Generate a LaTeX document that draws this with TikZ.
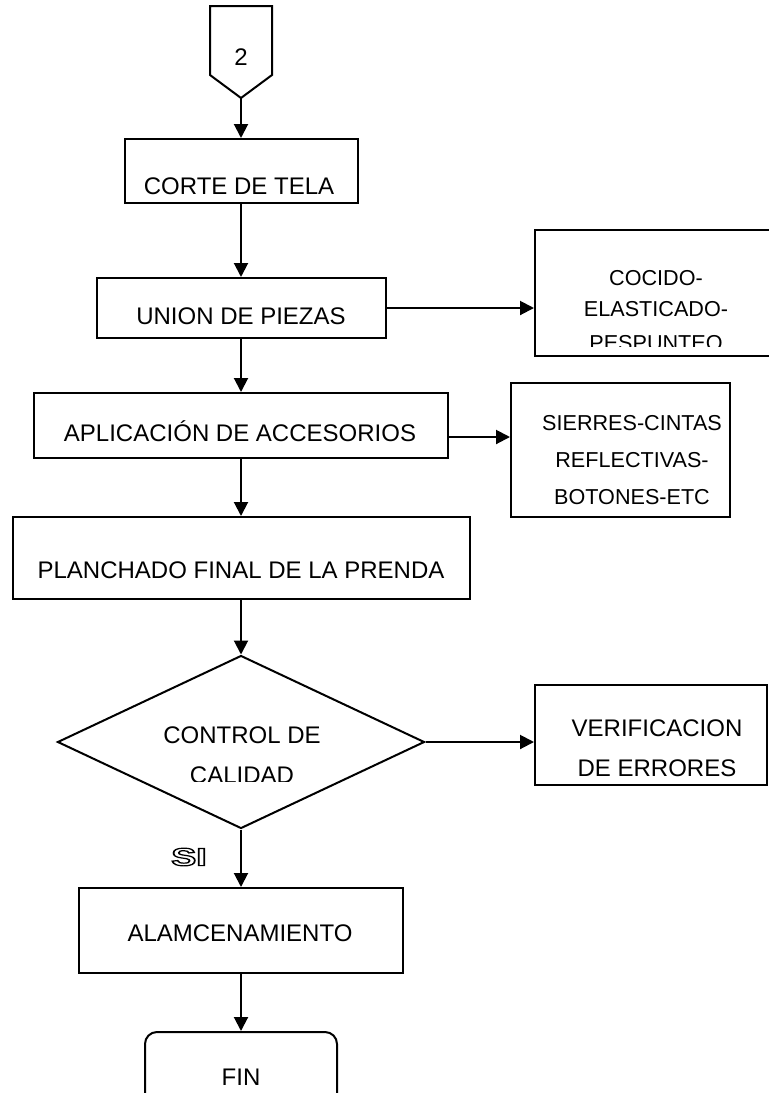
\documentclass[tikz,border=0pt]{standalone}
\usepackage{fontspec}
\setmainfont{Liberation Sans}
\usetikzlibrary{arrows.meta,shapes.geometric}

\tikzset{
  caja/.style={draw, line width=1pt, inner sep=0pt},
  txt/.style={inner sep=0pt, text height=8.6pt, text depth=0pt},
  txtchico/.style={txt, font=\fontsize{10.8}{13}\selectfont, text height=7.7pt},
  flecha/.style={line width=1pt, -{Triangle[length=7pt,width=7pt]}},
}
\newcommand{\contorno}[1]{\special{pdf:literal direct 1 Tr 0.6 w}#1\special{pdf:literal direct 0 Tr}}

\begin{document}
\begin{tikzpicture}[x=0.5pt, y=-0.5pt, font=\fontsize{12}{14.4}\selectfont, line join=miter]
	\useasboundingbox (0,0) rectangle (769,1093);
	% conector de pagina
	\path (210,6) coordinate (P1) (272,6) coordinate (P2) (272,75) coordinate (P3) (241,98) coordinate (P4) (210,75) coordinate (P5);
	\draw[line width=1pt] (P1)--(P2)--(P3)--(P4)--(P5)--cycle;
	\node[txt] (dos) at (241,57) {2};
	% cajas del proceso
	\node[caja, minimum width=116.5pt, minimum height=32pt] (corte) at (241,171) {};
	\node[caja, minimum width=144.5pt, minimum height=30pt] (union) at (241,308) {};
	\node[caja, minimum width=207pt, minimum height=32.5pt] (aplic) at (241,425.5) {};
	\node[caja, minimum width=228.5pt, minimum height=41pt] (planch) at (241,558) {};
	\node[caja, diamond, minimum width=183.5pt, minimum height=86.5pt] (control) at (241,742) {};
	\node[caja, minimum width=162pt, minimum height=42.5pt] (alm) at (241,930.5) {};
	\node[caja, rounded corners=6pt, minimum width=96pt, minimum height=44pt] (fin) at (241,1076) {};
	% cajas laterales
	\node[caja, minimum width=127.5pt, minimum height=63pt] (cocido) at (662.5,293) {};
	\node[caja, minimum width=109.5pt, minimum height=67pt] (sierres) at (620.5,450) {};
	\node[caja, minimum width=116pt, minimum height=50pt] (verif) at (651,735) {};
	% textos
	\node[txt] (tcorte) at (239,186) {CORTE DE TELA};
	\node[txt] (tunion) at (241,316) {UNION DE PIEZAS};
	\node[txt] (taplic) at (240,433) {APLICACIÓN DE ACCESORIOS};
	\node[txt] (tplanch) at (241,570) {PLANCHADO FINAL DE LA PRENDA};
	\node[txt] (talm) at (240,933) {ALAMCENAMIENTO};
	\node[txt] (tfin) at (241,1077) {FIN};
	\begin{scope}
		\clip (535,230) rectangle (769,346.5);
		\foreach \t/\y [count=\i] in {COCIDO-/278, ELASTICADO-/309, PESPUNTEO/343}
			\node[txtchico] (tcocido\i) at (656,\y) {\t};
	\end{scope}
	\foreach \t/\y [count=\i] in {SIERRES-CINTAS/423, REFLECTIVAS-/460, BOTONES-ETC/497}
		\node[txtchico] (tsierres\i) at (632,\y) {\t};
	\node[txt] (tverif1) at (657,728) {VERIFICACION};
	\node[txt] (tverif2) at (657,768) {DE ERRORES};
	\begin{scope}
		\clip (100,700) rectangle (400,781);
		\node[txt] (tcontrol1) at (242,735) {CONTROL DE};
		\node[txt] (tcontrol2) at (242,775) {CALIDAD};
	\end{scope}
	\node[txt, font=\fontsize{12.5}{15}\bfseries, xscale=1.5, transform shape] (si) at (189,857) {\contorno{SI}};
	% flechas
	\draw[flecha] (P4) -- (corte.north);
	\draw[flecha] (corte.south) -- (union.north);
	\draw[flecha] (union.south) -- (aplic.north);
	\draw[flecha] (aplic.south) -- (planch.north);
	\draw[flecha] (planch.south) -- (control.north);
	\draw[flecha] (control.south) -- (alm.north);
	\draw[flecha] (alm.south) -- (fin.north);
	\draw[flecha] (union.east) -- (cocido.west |- union.east);
	\draw[flecha] ([yshift=-5.75pt]aplic.east) -- ([yshift=-5.75pt]aplic.east -| sierres.west);
	\draw[flecha] (control.east) -- (control.east -| verif.west);
\end{tikzpicture}
\end{document}
